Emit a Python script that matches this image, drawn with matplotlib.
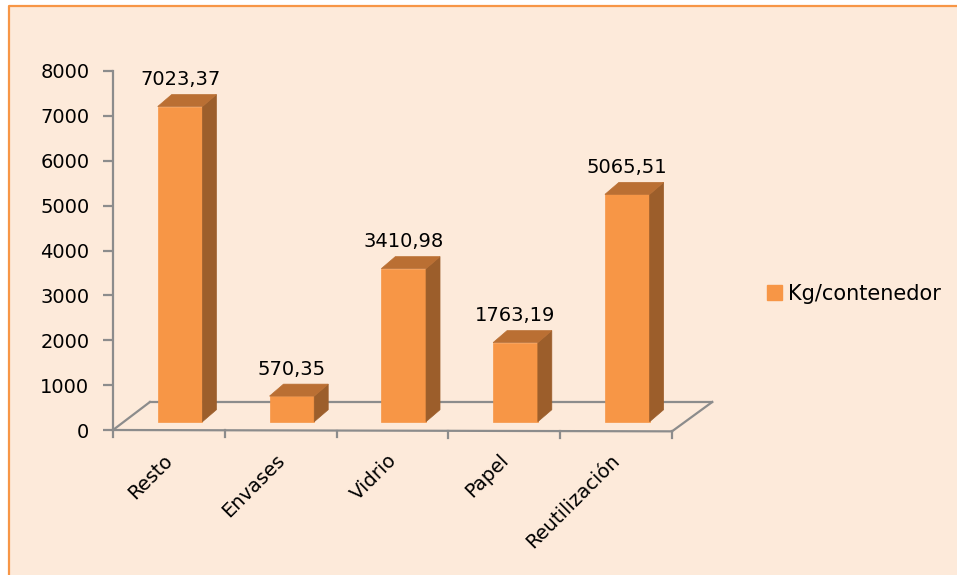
import matplotlib
matplotlib.use("Agg")
import matplotlib.pyplot as plt
from matplotlib.patches import Polygon, Rectangle, Patch
from matplotlib.lines import Line2D

categories = ["Resto", "Envases", "Vidrio", "Papel", "Reutilización"]
values = [7023.37, 570.35, 3410.98, 1763.19, 5065.51]
labels = ["7023,37", "570,35", "3410,98", "1763,19", "5065,51"]
series_name = "Kg/contenedor"
yticks = [0, 1000, 2000, 3000, 4000, 5000, 6000, 7000, 8000]

BG = "#FDEADA"
FRONT = "#F79646"
SIDE = "#9C5E2B"
TOP = "#BA6F33"
GRID = "#8C8C8C"

W, H = 957, 575
fig = plt.figure(figsize=(W / 100, H / 100), dpi=100)
fig.patch.set_facecolor("white")

# chart area background with border on left and top only
fig.add_artist(Rectangle((8 / W, 0), 1 - 8 / W, 1 - 5 / H,
                         transform=fig.transFigure, facecolor=BG,
                         edgecolor="none", zorder=0))
fig.add_artist(Line2D([8.5 / W, 8.5 / W, 1], [0, 1 - 5.5 / H, 1 - 5.5 / H],
                      transform=fig.transFigure, color=FRONT, lw=1.6))

px_per_cat = 111.8
ax_l, ax_r = 113, 713
ax_t, ax_b = 71, 430
ax = fig.add_axes([ax_l / W, 1 - ax_b / H, (ax_r - ax_l) / W, (ax_b - ax_t) / H])
ax.set_facecolor("none")
ax.set_xlim(0, (ax_r - ax_l) / px_per_cat)
ax.set_ylim(0, 8000)

n = len(categories)
# depth / perspective offsets (data units)
depth_dx = 0.33
depth_dy = 624
bar_dx = 0.125
bar_dy = 267
base = 185

# floor outline
floor_kw = dict(color=GRID, lw=1.6, clip_on=False, zorder=1)
ax.plot([0, n], [0, -30], **floor_kw)
ax.plot([0, depth_dx], [0, depth_dy], **floor_kw)
ax.plot([depth_dx, n + 0.36], [depth_dy, depth_dy], **floor_kw)
ax.plot([n + 0.36, n], [depth_dy, -30], **floor_kw)
for i in range(n + 1):
    yb = -30 * i / n
    ax.plot([i, i], [yb, yb - 150], **floor_kw)

# bars
xs = [i + 0.6 for i in range(n)]
bw = 0.4
ax.bar(xs, values, width=bw, bottom=base, color=FRONT, edgecolor=FRONT,
       lw=0.5, zorder=3, clip_on=False)
for x, v, lab in zip(xs, values, labels):
    x0, x1 = x - bw / 2, x + bw / 2
    t = base + v
    ax.add_patch(Polygon([(x1, base), (x1 + bar_dx, base + bar_dy),
                          (x1 + bar_dx, t + bar_dy), (x1, t)],
                         closed=True, facecolor=SIDE, edgecolor=SIDE, lw=0.5,
                         zorder=3, clip_on=False))
    ax.add_patch(Polygon([(x0, t), (x1, t), (x1 + bar_dx, t + bar_dy),
                          (x0 + bar_dx, t + bar_dy)],
                         closed=True, facecolor=TOP, edgecolor=TOP, lw=0.5,
                         zorder=3, clip_on=False))
    ax.annotate(lab, (x, t + bar_dy), xytext=(0, 4), textcoords="offset points",
                ha="center", va="bottom", fontsize=14, color="black", zorder=5)

# axes styling
for s in ["top", "right", "bottom"]:
    ax.spines[s].set_visible(False)
ax.spines["left"].set_color(GRID)
ax.spines["left"].set_linewidth(1.6)
ax.set_yticks(yticks)
ax.set_yticklabels([str(v) for v in yticks], fontsize=14)
ax.tick_params(axis="y", length=7, width=1.6, color=GRID, pad=10)
ax.set_xticks([])

for i, c in enumerate(categories):
    ax.text(i + 0.45, -460, c, rotation=45, ha="right", va="top",
            rotation_mode="anchor", fontsize=14, clip_on=False)

fig.legend(handles=[Patch(facecolor=FRONT, edgecolor=FRONT)], labels=[series_name],
           loc="center left", bbox_to_anchor=(767 / W, 1 - 294 / H),
           frameon=False, fontsize=15, handlelength=0.7, handleheight=0.7,
           handletextpad=0.3, borderpad=0, borderaxespad=0)

fig.savefig("out.png", dpi=100, facecolor="white")
